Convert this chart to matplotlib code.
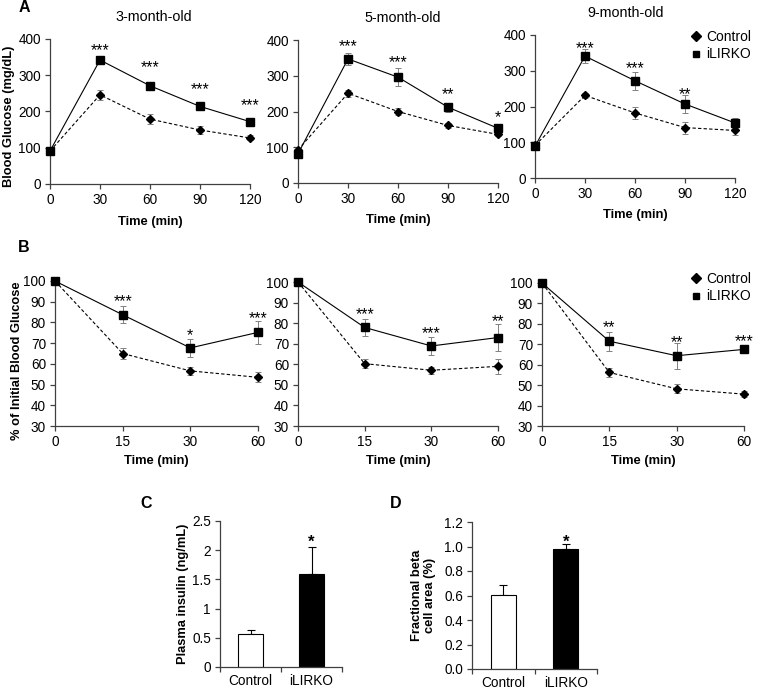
import matplotlib
matplotlib.use("Agg")
from matplotlib import pyplot as plt
from matplotlib.lines import Line2D
from matplotlib.ticker import FormatStrFormatter
import numpy as np

plt.rcParams['font.family'] = ['Liberation Sans', 'DejaVu Sans']

# ---- panel A: glucose tolerance (mg/dL) ----
gtt_time = [0, 30, 60, 90, 120]
gtt_titles = ['3-month-old', '5-month-old', '9-month-old']
gtt_ctrl = [[91, 246, 179, 149, 127],
            [93, 251, 200, 161, 136],
            [91, 231, 182, 141, 133]]
gtt_ctrl_err = [[4, 14, 14, 10, 7],
                [4, 10, 9, 6, 5],
                [4, 8, 17, 17, 12]]
gtt_ko = [[91, 342, 271, 214, 172],
          [82, 347, 296, 212, 153],
          [89, 341, 272, 207, 154]]
gtt_ko_err = [[4, 5, 5, 5, 5],
              [6, 16, 25, 12, 7],
              [5, 19, 25, 24, 15]]
gtt_stars = [['***', '***', '***', '***'],
             ['***', '***', '**', '*'],
             ['***', '***', '**', '']]
gtt_star_y = [[380, 334, 274, 228],
              [393, 349, 260, 195],
              [374, 318, 246, 0]]

# ---- panel B: insulin tolerance (% of initial) ----
itt_time = ['0', '15', '30', '60']
itt_ctrl = [[100, 65.0, 56.6, 53.5],
            [100, 60.3, 57.1, 59.0],
            [100, 56.2, 48.2, 45.6]]
itt_ctrl_err = [[0.5, 2.5, 1.8, 2.4],
                [0.5, 2.3, 1.6, 3.8],
                [0.5, 2.4, 2.2, 1.5]]
itt_ko = [[100, 83.7, 67.7, 75.2],
          [100, 77.9, 68.9, 73.0],
          [100, 71.5, 64.4, 67.5]]
itt_ko_err = [[0.5, 4.2, 4.5, 5.6],
              [0.5, 4.3, 4.5, 6.5],
              [0.5, 4.6, 6.3, 1.5]]
itt_stars = [['***', '*', '***'],
             ['***', '***', '**'],
             ['**', '**', '***']]
itt_star_y = [[92, 75.6, 84],
              [86.3, 77.3, 83],
              [80.5, 73, 73.3]]

# ---- panels C, D: bars ----
groups = ['Control', 'iLIRKO']
insulin = [0.57, 1.60]
insulin_err = [0.06, 0.46]
beta_area = [0.607, 0.982]
beta_err = [0.075, 0.035]

W, H = 758, 691
fig = plt.figure(figsize=(W / 100, H / 100), dpi=100)


def box(l, t, r, b):
    return [l / W, 1 - b / H, (r - l) / W, (b - t) / H]


AXC = '#404040'


def style(ax):
    for s in ['top', 'right']:
        ax.spines[s].set_visible(False)
    for s in ['left', 'bottom']:
        ax.spines[s].set_color(AXC)
        ax.spines[s].set_linewidth(0.9)
    ax.tick_params(direction='out', length=3.5, width=0.9, color=AXC,
                   labelsize=9.8, pad=3)


def noclip(container):
    for art in container.get_children():
        art.set_clip_on(False)


def draw_lines(ax, x, c, ce, k, ke):
    for y, e in [(c, ce), (k, ke)]:
        eb = ax.errorbar(x, y, yerr=e, fmt='none', ecolor='#808080',
                         elinewidth=0.7, capsize=2.5, capthick=0.7, zorder=2)
        noclip(eb)
    ax.plot(x, c, color='black', linestyle=(0, (3, 2)), linewidth=0.8,
            marker='D', markersize=4.2, zorder=3, clip_on=False)
    ax.plot(x, k, color='black', linestyle='-', linewidth=0.8,
            marker='s', markersize=5.5, zorder=4, clip_on=False)


def stars(ax, xs, labels, ys):
    for x, s, y in zip(xs, labels, ys):
        if s:
            ax.annotate(s, (x, y), xytext=(0, -6.5), textcoords='offset points',
                        ha='center', va='baseline', fontsize=11.5,
                        annotation_clip=False)


legend_handles = [Line2D([], [], marker='D', color='black', linestyle='none', markersize=5.5),
                  Line2D([], [], marker='s', color='black', linestyle='none', markersize=4.8)]

# panel A
a_boxes = [(50, 39, 250, 184), (298, 40, 498, 183), (535, 35, 735, 178)]
title_x = [0.52, 0.525, 0.455]
for i, bx in enumerate(a_boxes):
    ax = fig.add_axes(box(*bx))
    style(ax)
    draw_lines(ax, gtt_time, gtt_ctrl[i], gtt_ctrl_err[i], gtt_ko[i], gtt_ko_err[i])
    stars(ax, gtt_time[1:], gtt_stars[i], gtt_star_y[i])
    ax.set_xlim(0, 120)
    ax.set_ylim(0, 400)
    ax.set_xticks(gtt_time)
    ax.set_yticks([0, 100, 200, 300, 400])
    ax.set_xlabel('Time (min)', fontsize=9.3, fontweight='bold')
    ax.xaxis.set_label_coords(0.5, -0.22)
    ax.text(title_x[i], 1.155, gtt_titles[i], transform=ax.transAxes, ha='center',
            va='center', fontsize=10.3)
    if i == 0:
        ax.set_ylabel('Blood Glucose (mg/dL)', fontsize=9.3, fontweight='bold')
        ax.yaxis.set_label_coords(-0.175, 0.47)
    if i == 2:
        ax.legend(legend_handles, groups, loc='upper right', frameon=False,
                  fontsize=10, handlelength=0.8, handletextpad=0.3,
                  labelspacing=0.25, borderpad=0, borderaxespad=0,
                  bbox_to_anchor=(751 / W, 1 - 30 / H),
                  bbox_transform=fig.transFigure)

# panel B
b_boxes = [(55, 281, 258, 426), (298, 282, 498, 426), (542, 283, 744, 426)]
xb = np.arange(len(itt_time))
for i, bx in enumerate(b_boxes):
    ax = fig.add_axes(box(*bx))
    style(ax)
    draw_lines(ax, xb, itt_ctrl[i], itt_ctrl_err[i], itt_ko[i], itt_ko_err[i])
    stars(ax, xb[1:], itt_stars[i], itt_star_y[i])
    ax.set_xlim(0, 3)
    ax.set_ylim(30, 100)
    ax.set_xticks(xb)
    ax.set_xticklabels(itt_time)
    ax.set_yticks(range(30, 101, 10))
    ax.set_xlabel('Time (min)', fontsize=9.3, fontweight='bold')
    ax.xaxis.set_label_coords(0.5, -0.2)
    if i == 0:
        ax.set_ylabel('% of Initial Blood Glucose', fontsize=9.3, fontweight='bold')
        ax.yaxis.set_label_coords(-0.16, 0.45)
    if i == 2:
        ax.legend(legend_handles, groups, loc='upper right', frameon=False,
                  fontsize=10, handlelength=0.8, handletextpad=0.3,
                  labelspacing=0.25, borderpad=0, borderaxespad=0,
                  bbox_to_anchor=(751 / W, 1 - 272 / H),
                  bbox_transform=fig.transFigure)


def bars(ax, vals, errs, width):
    pos = [0.5, 1.5]
    ax.bar(pos, vals, width=width, color=['white', 'black'], edgecolor='black',
           linewidth=0.8, zorder=2)
    ax.errorbar(pos, vals, yerr=[[0, 0], errs], fmt='none', ecolor='black',
                elinewidth=0.8, capsize=3, capthick=0.8, zorder=1)
    ax.set_xlim(0, 2)
    ax.set_xticks([0, 1, 2])
    ax.set_xticklabels([])
    ax.set_xticks(pos, minor=True)
    ax.set_xticklabels(groups, minor=True)
    ax.tick_params(axis='x', which='minor', length=0, labelsize=9.8, pad=5)


# panel C
ax = fig.add_axes(box(220, 521, 342, 667))
style(ax)
bars(ax, insulin, insulin_err, 0.41)
ax.set_ylim(0, 2.5)
ax.set_yticks([0, 0.5, 1, 1.5, 2, 2.5])
ax.yaxis.set_major_formatter(FormatStrFormatter('%g'))
ax.set_ylabel('Plasma insulin (ng/mL)', fontsize=9.3, fontweight='bold')
ax.yaxis.set_label_coords(-0.255, 0.5)
ax.annotate('*', (1.5, insulin[1] + insulin_err[1] + 0.15), xytext=(0, -6),
            textcoords='offset points', ha='center', va='baseline',
            fontsize=12, fontweight='bold')

# panel D
ax = fig.add_axes(box(472, 522, 597, 669))
style(ax)
bars(ax, beta_area, beta_err, 0.4)
ax.set_ylim(0, 1.2)
ax.set_yticks(np.arange(0, 1.21, 0.2))
ax.yaxis.set_major_formatter(FormatStrFormatter('%.1f'))
ax.set_ylabel('Fractional beta\ncell area (%)', fontsize=9.3, fontweight='bold',
              linespacing=1.1)
ax.yaxis.set_label_coords(-0.29, 0.5)
ax.annotate('*', (1.5, beta_area[1] + beta_err[1] + 0.045), xytext=(0, -6),
            textcoords='offset points', ha='center', va='baseline',
            fontsize=12, fontweight='bold')

# panel letters
for letter, px, py in [('A', 24, 8), ('B', 24, 247), ('C', 146, 504), ('D', 396, 504)]:
    fig.text(px / W, 1 - py / H, letter, ha='center', va='center',
             fontsize=11.5, fontweight='bold')

fig.savefig('out.png', dpi=100)
